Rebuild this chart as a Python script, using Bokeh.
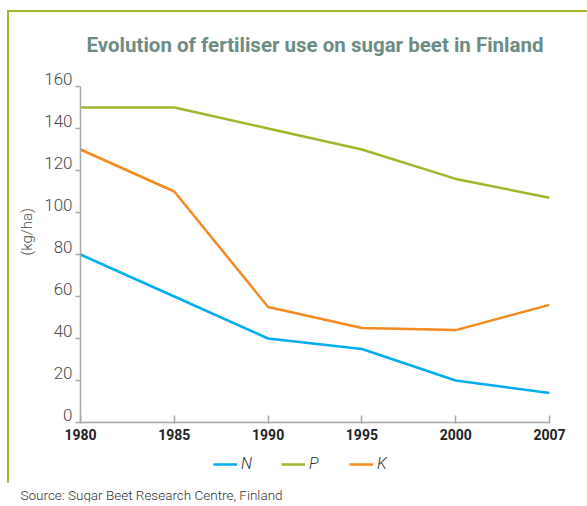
from bokeh.plotting import figure
from bokeh.layouts import column
from bokeh.models import (Range1d, FixedTicker, Legend, LegendItem, Title)
from bokeh.embed import file_html
from bokeh.resources import INLINE

years = ["1980", "1985", "1990", "1995", "2000", "2007"]
n_vals = [80, 60, 40, 35, 20, 14]
p_vals = [150, 150, 140, 130, 116, 107]
k_vals = [130, 110, 55, 45, 44, 56]
y_ticks = [0, 20, 40, 60, 80, 100, 120, 140, 160]

FONT = "Roboto"
FONT_LIGHT = "'Roboto Light', Roboto"
C_N = "#00aeef"
C_P = "#9cb92d"
C_K = "#f58a1f"
C_BORDER = "#9cb92d"
C_AXIS = "#a8a8a8"

xs = list(range(len(years)))

# ---------------- main chart ----------------
p = figure(width=587, height=450, output_backend="svg", toolbar_location=None,
           x_range=Range1d(0, len(years) - 1), y_range=Range1d(0, 160),
           min_border_left=80, min_border_right=38, min_border_top=86, min_border_bottom=28,
           frame_width=469, frame_height=336)
p.outline_line_color = None
p.grid.visible = False
p.background_fill_color = None
p.border_fill_color = None

p.title = Title(text="Evolution of fertiliser use on sugar beet in Finland",
                align="center", text_font=FONT, text_font_style="bold",
                text_font_size="20.5px", text_color="#6d8c83", standoff=60)

p.line(xs, n_vals, line_color=C_N, line_width=2.5)
p.line(xs, p_vals, line_color=C_P, line_width=2.5)
p.line(xs, k_vals, line_color=C_K, line_width=2.5)

xa = p.xaxis[0]
xa.ticker = FixedTicker(ticks=xs)
xa.major_label_overrides = {i: y for i, y in enumerate(years)}
xa.major_label_text_font = FONT
xa.major_label_text_font_style = "bold"
xa.major_label_text_font_size = "14px"
xa.major_label_text_color = "#222222"
xa.axis_line_color = C_AXIS
xa.axis_line_width = 1.5
xa.major_tick_line_color = C_AXIS
xa.major_tick_line_width = 1.5
xa.major_tick_in = 7
xa.major_tick_out = 1
xa.minor_tick_line_color = None
xa.major_label_standoff = 5

ya = p.yaxis[0]
ya.ticker = FixedTicker(ticks=y_ticks)
# labels sit just above their tick marks, as in the reference
ya.major_label_overrides = {v: "%d\n" % v for v in y_ticks}
ya.major_label_text_font = FONT_LIGHT
ya.major_label_text_font_size = "17px"
ya.major_label_text_line_height = 0.8
ya.major_label_text_color = "#4a4a4a"
ya.axis_line_color = C_AXIS
ya.axis_line_width = 1.5
ya.major_tick_line_color = C_AXIS
ya.major_tick_line_width = 1.5
ya.major_tick_in = 0
ya.major_tick_out = 5
ya.minor_tick_line_color = None
ya.major_label_standoff = 3

ylab = Title(text="(kg/ha)", align="left", offset=167, standoff=12,
             text_font=FONT_LIGHT, text_font_style="normal", text_font_size="15px",
             text_color="#4a4a4a")
p.add_layout(ylab, "left")

# ---------------- footer: legend + source ----------------
f = figure(width=587, height=52, output_backend="svg", toolbar_location=None,
           x_axis_location=None, y_axis_location=None,
           x_range=Range1d(0, len(years) - 1), y_range=Range1d(1000, 1056),
           min_border_left=0, min_border_right=0, min_border_top=0, min_border_bottom=0)
f.outline_line_color = None
f.grid.visible = False
f.background_fill_color = None
f.border_fill_color = None

fn = f.line(xs, n_vals, line_color=C_N, line_width=2.5)
fp = f.line(xs, p_vals, line_color=C_P, line_width=2.5)
fk = f.line(xs, k_vals, line_color=C_K, line_width=2.5)

legend = Legend(items=[LegendItem(label="N", renderers=[fn]),
                       LegendItem(label="P", renderers=[fp]),
                       LegendItem(label="K", renderers=[fk])],
                orientation="horizontal", location=(133, 11),
                border_line_color=None, background_fill_alpha=0,
                label_text_font=FONT_LIGHT, label_text_font_style="italic",
                label_text_font_size="16px", label_text_color="#333333",
                glyph_width=24, glyph_height=14, label_standoff=4, spacing=20,
                padding=0, margin=0)
f.add_layout(legend, "center")

src = Title(text="Source: Sugar Beet Research Centre, Finland", align="left",
            text_font=FONT_LIGHT, text_font_style="normal", text_font_size="13.5px",
            text_color="#333333", offset=-60, standoff=0)
f.add_layout(src, "below")

layout = column(p, f, spacing=0)
layout.styles = {
    "background": ("linear-gradient(%s,%s) 7px 10px / 2px 473px no-repeat, "
                   "linear-gradient(%s,%s) 7px 10px / 100%% 2px no-repeat, white")
                  % (C_BORDER, C_BORDER, C_BORDER, C_BORDER)
}

open("out.html", "w").write(file_html(layout, INLINE))
